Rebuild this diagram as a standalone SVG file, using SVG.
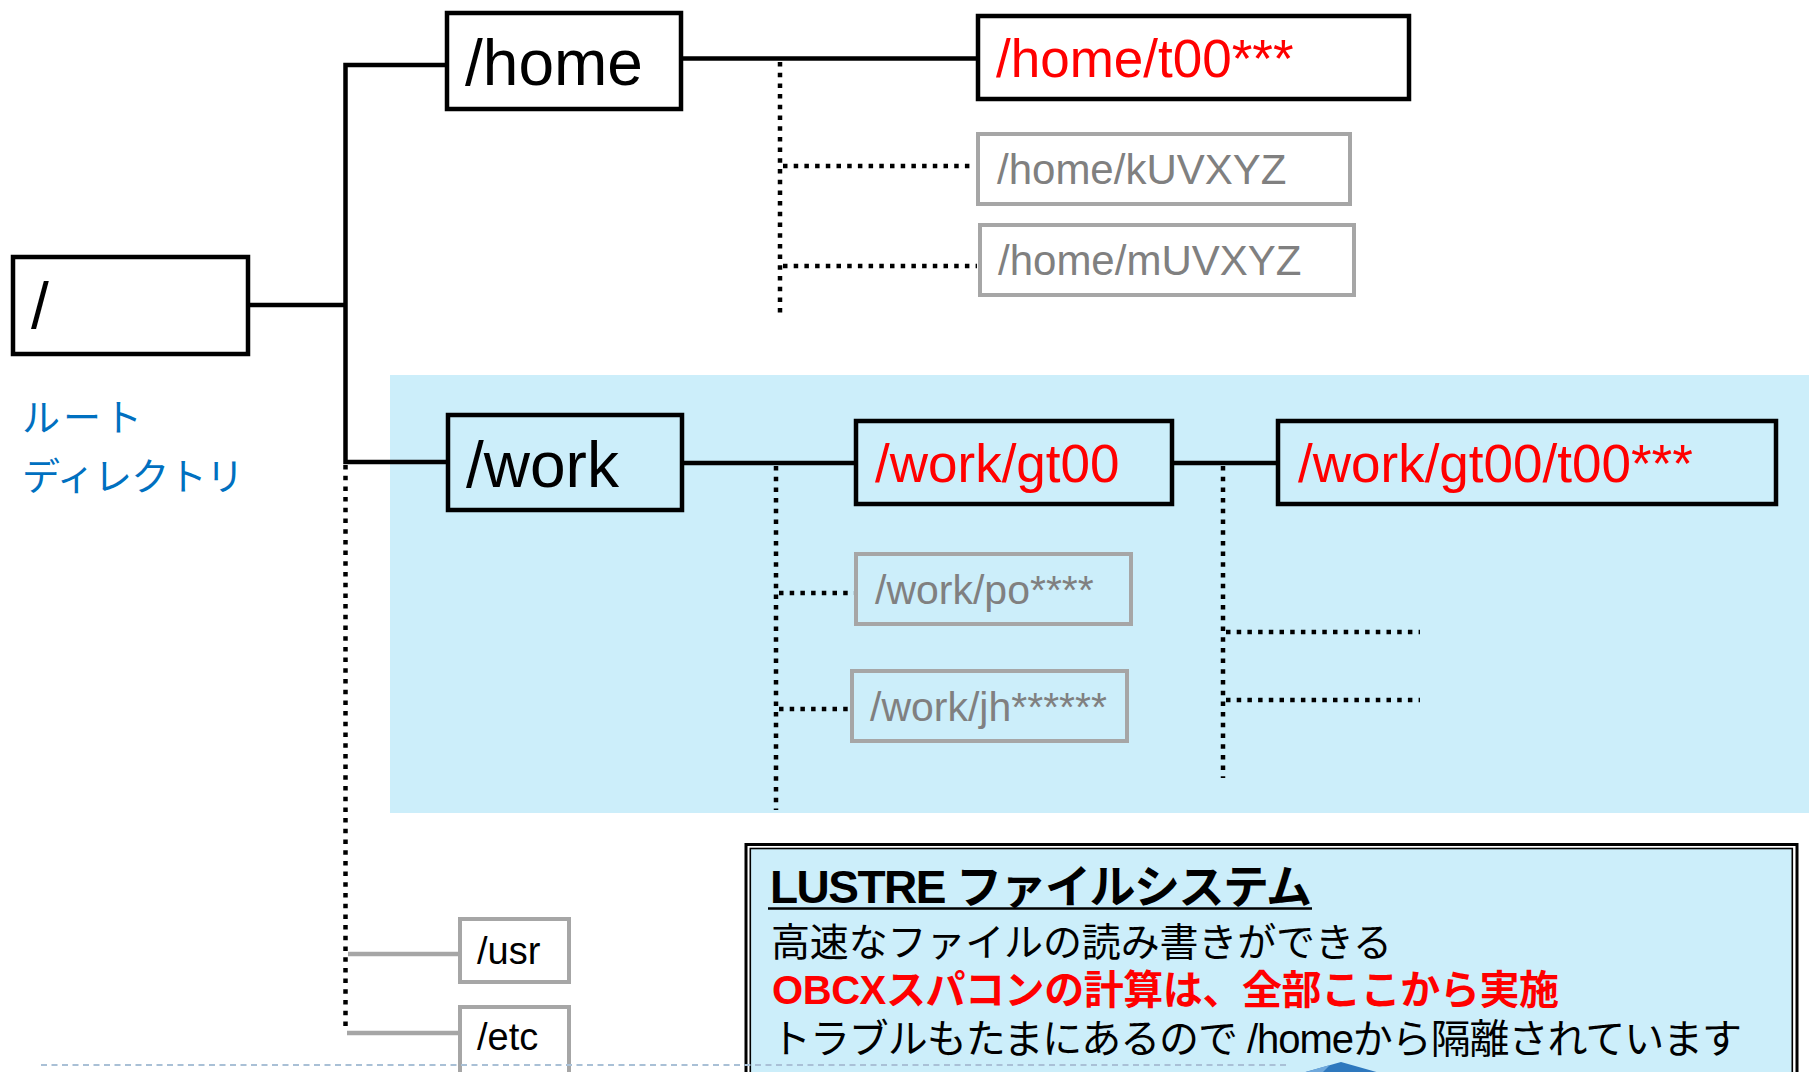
<svg xmlns="http://www.w3.org/2000/svg" width="1809" height="1072" viewBox="0 0 1809 1072">
<style>
  .t { font-family: "Liberation Sans", "Noto Sans CJK JP", sans-serif; }
  .jp { font-family: "Noto Sans CJK JP", sans-serif; }
  .bk { fill: none; stroke: #000; stroke-width: 4.5; }
  .bkf { fill: #CCEEFA; stroke: #000; stroke-width: 4.5; }
  .gr { fill: #fff; stroke: #A6A6A6; stroke-width: 4; }
  .grf { fill: #CCEEFA; stroke: #A6A6A6; stroke-width: 4; }
  .big { font-size: 64px; fill: #000; }
  .red { font-size: 53px; fill: #FF0000; }
  .gtx { font-size: 41px; fill: #808080; }
  .sm { font-size: 38px; fill: #000; }
  .solid { fill: none; stroke: #000; stroke-width: 4.5; }
  .dot { fill: none; stroke: #000; stroke-width: 4.5; stroke-dasharray: 4.5 6.2; }
  .gline { fill: none; stroke: #A6A6A6; stroke-width: 4.5; }
</style>

<rect id="work-area" x="390" y="375" width="1419" height="438" fill="#CCEEFA"/>

<g id="connectors">
  <line class="solid" x1="250" y1="305" x2="345.5" y2="305"/>
  <polyline class="solid" points="446,65 345.5,65 345.5,462 446,462"/>
  <line class="dot" x1="345.5" y1="465" x2="345.5" y2="1028"/>
  <line class="gline" x1="348" y1="954" x2="458" y2="954"/>
  <line class="gline" x1="347" y1="1033" x2="458" y2="1033"/>

  <line class="solid" x1="683" y1="58.5" x2="976" y2="58.5"/>
  <line class="dot" x1="780" y1="62" x2="780" y2="318"/>
  <line class="dot" x1="783" y1="166" x2="975" y2="166"/>
  <line class="dot" x1="783" y1="266" x2="977" y2="266"/>

  <line class="solid" x1="683" y1="463" x2="854" y2="463"/>
  <line class="dot" x1="776" y1="466" x2="776" y2="810"/>
  <line class="dot" x1="779" y1="593" x2="854" y2="593"/>
  <line class="dot" x1="779" y1="709" x2="850" y2="709"/>

  <line class="solid" x1="1174" y1="463" x2="1276" y2="463"/>
  <line class="dot" x1="1223" y1="466" x2="1223" y2="778"/>
  <line class="dot" x1="1226" y1="632" x2="1420" y2="632"/>
  <line class="dot" x1="1226" y1="700" x2="1420" y2="700"/>
</g>

<g id="root">
  <rect class="bk" x="13" y="257" width="235" height="97" style="fill:#fff"/>
  <text class="t big" x="31" y="328">/</text>
</g>
<g id="root-label">
  <text class="jp" x="22" y="431" font-size="38" fill="#0070C0" textLength="120">ルート</text>
  <text class="jp" x="22" y="490" font-size="38" fill="#0070C0" textLength="222">ディレクトリ</text>
</g>

<g id="home">
  <rect class="bk" x="447" y="13" width="234" height="96" style="fill:#fff"/>
  <text class="t big" x="465" y="85">/home</text>
</g>
<g id="home-t00">
  <rect class="bk" x="978" y="16" width="431" height="83" style="fill:#fff"/>
  <text class="t red" x="996" y="77">/home/t00***</text>
</g>
<g id="home-k">
  <rect class="gr" x="978" y="134" width="372" height="70"/>
  <text class="t gtx" x="997" y="184" style="font-size:42px">/home/kUVXYZ</text>
</g>
<g id="home-m">
  <rect class="gr" x="980" y="225" width="374" height="70"/>
  <text class="t gtx" x="998" y="275" style="font-size:42px">/home/mUVXYZ</text>
</g>

<g id="work">
  <rect class="bkf" x="448" y="415" width="234" height="95"/>
  <text class="t big" x="466" y="487">/work</text>
</g>
<g id="work-gt00">
  <rect class="bkf" x="856" y="421" width="316" height="83"/>
  <text class="t red" x="875" y="482">/work/gt00</text>
</g>
<g id="work-gt00-t00">
  <rect class="bkf" x="1278" y="421" width="498" height="83"/>
  <text class="t red" x="1298" y="482">/work/gt00/t00***</text>
</g>
<g id="work-po">
  <rect class="grf" x="856" y="554" width="275" height="70"/>
  <text class="t gtx" x="875" y="604">/work/po****</text>
</g>
<g id="work-jh">
  <rect class="grf" x="852" y="671" width="275" height="70"/>
  <text class="t gtx" x="870" y="721">/work/jh******</text>
</g>

<g id="usr">
  <rect class="gr" x="460" y="919" width="109" height="63"/>
  <text class="t sm" x="477" y="964">/usr</text>
</g>
<g id="etc">
  <rect class="gr" x="460" y="1007" width="109" height="80"/>
  <text class="t sm" x="477" y="1050">/etc</text>
</g>

<g id="lustre-note">
  <rect x="746" y="844.5" width="1051" height="260" fill="#fff" stroke="#000" stroke-width="3"/>
  <rect x="750.3" y="848.5" width="1042" height="250" fill="#CCEEFA" stroke="#000" stroke-width="1.6"/>
  <text class="t" x="770" y="903" font-size="46" font-weight="bold" fill="#000" textLength="542">LUSTRE ファイルシステム</text>
  <line x1="768" y1="908.5" x2="1312" y2="908.5" stroke="#000" stroke-width="2.6"/>
  <text class="t" x="771" y="956" font-size="39" fill="#000" textLength="621">高速なファイルの読み書きができる</text>
  <text class="t" x="772" y="1004" font-size="40" font-weight="bold" fill="#FF0000" textLength="787">OBCXスパコンの計算は、全部ここから実施</text>
  <text class="t" x="771" y="1053" font-size="40" fill="#000" textLength="971">トラブルもたまにあるので /homeから隔離されています</text>
</g>

<line id="footer-line" x1="41" y1="1065" x2="1287" y2="1065" stroke="#A9C0D6" stroke-width="2" stroke-dasharray="6 4.5"/>
<g id="footer-arrow">
  <polygon points="1302,1073 1341,1062 1380,1073" fill="#2E78BE"/>
  <polygon points="1302,1073 1330,1065 1322,1073" fill="#6FA8DC"/>
</g>
</svg>
